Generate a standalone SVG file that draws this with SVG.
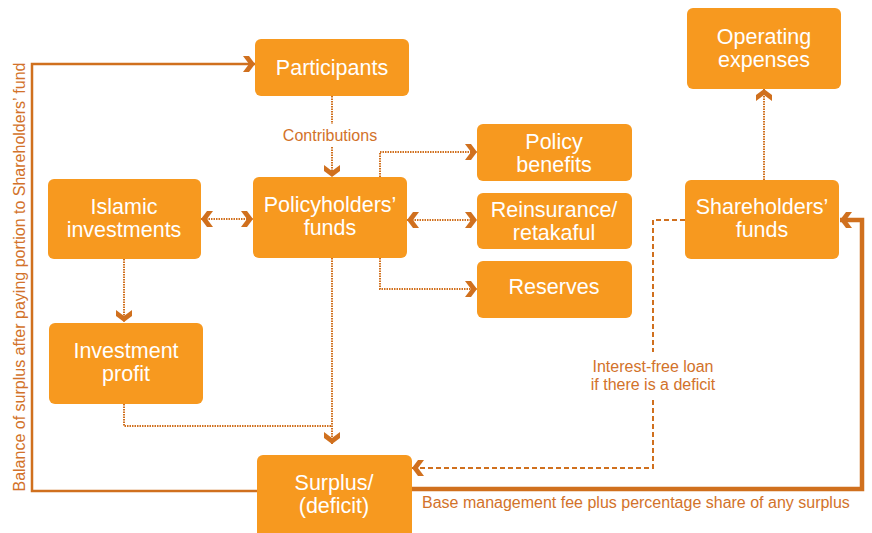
<svg xmlns="http://www.w3.org/2000/svg" width="872" height="533" viewBox="0 0 872 533">
<defs>
<style>
.node rect{fill:#F7991F;}
.node text{fill:#ffffff;font-family:"Liberation Sans",Arial,sans-serif;font-size:21.5px;text-anchor:middle;}
.lbl{fill:#D2722A;font-family:"Liberation Sans",Arial,sans-serif;font-size:16px;}
.dot{fill:none;stroke:#D0701E;stroke-width:2;stroke-dasharray:1.5 1;}
.dash{fill:none;stroke:#D0701E;stroke-width:2;stroke-dasharray:5 3;}
.solid{fill:none;stroke:#D0701E;stroke-width:2.5;}
.thick{fill:none;stroke:#D0701E;stroke-width:4.5;}
</style>
<marker id="chev" markerUnits="userSpaceOnUse" markerWidth="13" markerHeight="16" refX="12" refY="8" orient="auto-start-reverse" overflow="visible">
<path d="M0,0 L6,0 L12,8 L6,16 L0,16 L6,8 Z" fill="#D0701E"/>
</marker>
</defs>
<rect width="872" height="533" fill="#ffffff"/>
<g id="connectors">
<path class="solid" d="M257,491 H32 V64 H255" marker-end="url(#chev)"/>
<path class="dot" d="M332,96 V124"/>
<path class="dot" d="M332,147 V177" marker-end="url(#chev)"/>
<path class="dot" d="M201,219 H253" marker-start="url(#chev)" marker-end="url(#chev)"/>
<path class="dot" d="M380,177 V152 H477" marker-end="url(#chev)"/>
<path class="dot" d="M407,220 H477" marker-start="url(#chev)" marker-end="url(#chev)"/>
<path class="dot" d="M380,258 V289 H477" marker-end="url(#chev)"/>
<path class="dot" d="M332,258 V444" marker-end="url(#chev)"/>
<path class="dot" d="M124,259 V322" marker-end="url(#chev)"/>
<path class="dot" d="M124,404 V426 H332"/>
<path class="dash" d="M685,220 H653 V352"/>
<path class="dash" d="M653,400 V468 H412" marker-end="url(#chev)"/>
<path class="thick" d="M412,489 H862 V220 H840" marker-end="url(#chev)"/>
<path class="dot" d="M764,180 V89" marker-end="url(#chev)"/>
<text class="lbl" x="330" y="141" text-anchor="middle">Contributions</text>
<text class="lbl" x="653" y="372" text-anchor="middle">Interest-free loan</text>
<text class="lbl" x="653" y="390" text-anchor="middle">if there is a deficit</text>
<text class="lbl" x="422" y="508">Base management fee plus percentage share of any surplus</text>
<text class="lbl" transform="translate(25,277) rotate(-90)" text-anchor="middle">Balance of surplus after paying portion to Shareholders’ fund</text>
</g>
<g id="participants" class="node"><rect x="255" y="39" width="154" height="57" rx="6"/><text x="332" y="75">Participants</text></g>
<g id="policyholders" class="node"><rect x="253" y="177" width="154" height="81" rx="6"/><text x="330" y="212">Policyholders’</text><text x="330" y="235">funds</text></g>
<g id="islamic" class="node"><rect x="48" y="179" width="153" height="80" rx="6"/><text x="124" y="214">Islamic</text><text x="124" y="237">investments</text></g>
<g id="invprofit" class="node"><rect x="49" y="323" width="154" height="81" rx="6"/><text x="126" y="358">Investment</text><text x="126" y="381">profit</text></g>
<g id="surplus" class="node"><rect x="257" y="455" width="155" height="90" rx="6"/><text x="334" y="490">Surplus/</text><text x="334" y="513">(deficit)</text></g>
<g id="benefits" class="node"><rect x="477" y="124" width="155" height="57" rx="6"/><text x="554" y="149">Policy</text><text x="554" y="172">benefits</text></g>
<g id="reinsurance" class="node"><rect x="477" y="193" width="155" height="56" rx="6"/><text x="554" y="217">Reinsurance/</text><text x="554" y="240">retakaful</text></g>
<g id="reserves" class="node"><rect x="477" y="261" width="155" height="57" rx="6"/><text x="554" y="294">Reserves</text></g>
<g id="shareholders" class="node"><rect x="685" y="180" width="154" height="79" rx="6"/><text x="762" y="214">Shareholders’</text><text x="762" y="237">funds</text></g>
<g id="opex" class="node"><rect x="687" y="8" width="154" height="81" rx="6"/><text x="764" y="44">Operating</text><text x="764" y="67">expenses</text></g>
</svg>
